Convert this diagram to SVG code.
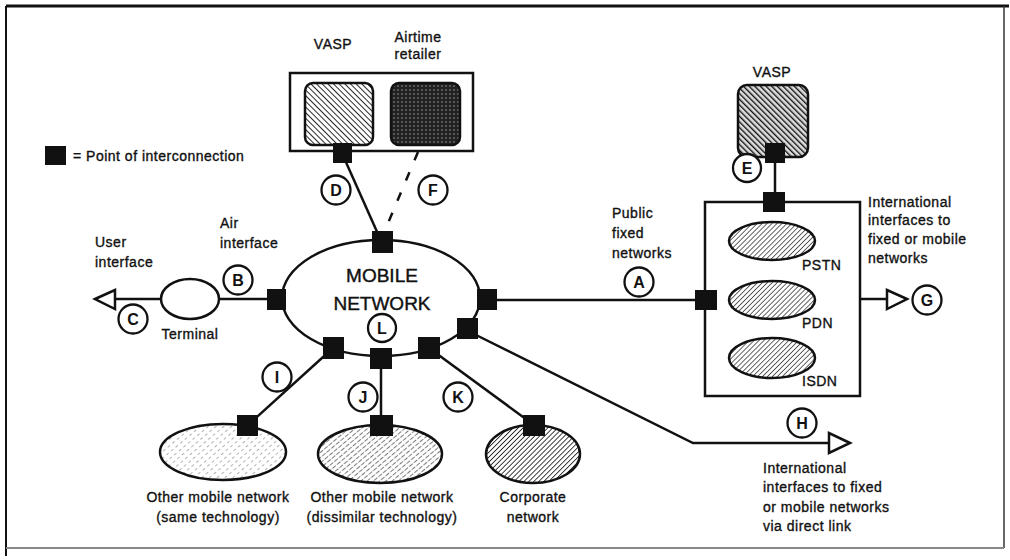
<svg xmlns="http://www.w3.org/2000/svg" width="1010" height="560" viewBox="0 0 1010 560">
<defs>
<style>
text{font-family:"Liberation Sans",Arial,sans-serif;fill:#111}
.lbl{font-size:14px;letter-spacing:0.5px;stroke:#111;stroke-width:0.35px}
.big{font-size:19px;stroke:#111;stroke-width:0.4px}
.ltr{font-size:16px;text-anchor:middle;font-weight:bold}
.mid{text-anchor:middle}
.c{fill:#fff;stroke:#111;stroke-width:2.3}
.ln{stroke:#111;stroke-width:2.5;fill:none}
.poi{fill:#111}
.arr{fill:#fff;stroke:#111;stroke-width:2.5;stroke-linejoin:miter}
.bx{fill:#fff;stroke:#111;stroke-width:2.5}
</style>
<pattern id="hBack" width="4" height="4" patternUnits="userSpaceOnUse" patternTransform="rotate(-45)">
<rect width="4" height="4" fill="#fff"/><line x1="0" y1="0" x2="0" y2="4" stroke="#111" stroke-width="1.8"/>
</pattern>
<pattern id="hBackDark" width="4" height="4" patternUnits="userSpaceOnUse" patternTransform="rotate(-45)">
<rect width="4" height="4" fill="#ddd"/><line x1="0" y1="0" x2="0" y2="4" stroke="#111" stroke-width="2.7"/>
</pattern>
<pattern id="dots" width="4" height="4" patternUnits="userSpaceOnUse">
<rect width="4" height="4" fill="#222"/><circle cx="2" cy="2" r="0.8" fill="#999"/>
</pattern>
<pattern id="hFwd" width="3.5" height="3.5" patternUnits="userSpaceOnUse" patternTransform="rotate(45)">
<rect width="3.5" height="3.5" fill="#fff"/><line x1="0" y1="0" x2="0" y2="3.5" stroke="#222" stroke-width="1.4"/>
</pattern>
<pattern id="hLight" width="5" height="6" patternUnits="userSpaceOnUse" patternTransform="rotate(50)">
<rect width="5" height="6" fill="#fff"/><line x1="0" y1="0" x2="0" y2="3" stroke="#666" stroke-width="1"/>
</pattern>
<pattern id="hMed" width="4" height="6" patternUnits="userSpaceOnUse" patternTransform="rotate(50)">
<rect width="4" height="6" fill="#fff"/><line x1="0" y1="0" x2="0" y2="4.5" stroke="#333" stroke-width="1.3"/>
</pattern>
<pattern id="hDense" width="3.5" height="3.5" patternUnits="userSpaceOnUse" patternTransform="rotate(45)">
<rect width="3.5" height="3.5" fill="#fff"/><line x1="0" y1="0" x2="0" y2="3.5" stroke="#111" stroke-width="1.6"/>
</pattern>
</defs>

<g id="frame" fill="none">
<line x1="6" y1="6" x2="1009" y2="6" stroke="#111" stroke-width="3"/>
<line x1="6" y1="6" x2="6" y2="556" stroke="#111" stroke-width="2"/>
<line x1="1004" y1="6" x2="1004" y2="548" stroke="#333" stroke-width="1.5"/>
<line x1="6" y1="548" x2="1004" y2="548" stroke="#888" stroke-width="2"/>
</g>

<g id="connectors">
<line class="ln" x1="345" y1="160" x2="378" y2="234"/>
<line class="ln" x1="418" y1="152" x2="386" y2="228" stroke-dasharray="9 13"/>
<line class="ln" x1="115" y1="299" x2="161" y2="299"/>
<line class="ln" x1="219" y1="299" x2="268" y2="299"/>
<line class="ln" x1="497" y1="300" x2="705" y2="300"/>
<line class="ln" x1="775" y1="160" x2="775" y2="195"/>
<line class="ln" x1="860" y1="299" x2="888" y2="299"/>
<polyline class="ln" points="470,332 693,443 829,443"/>
<line class="ln" x1="333" y1="348" x2="248" y2="425"/>
<line class="ln" x1="381" y1="358" x2="381" y2="418"/>
<line class="ln" x1="429" y1="348" x2="534" y2="425"/>
<polygon class="arr" points="95,299 115,290 115,309"/>
<polygon class="arr" points="907,299 887,290 887,309"/>
<polygon class="arr" points="850,443 829,433 829,453"/>
</g>

<g id="legend">
<rect class="poi" x="45" y="146" width="21" height="19"/>
<text class="lbl" x="73" y="161">= Point of interconnection</text>
</g>

<g id="vasp-airtime">
<rect class="bx" x="290" y="73" width="183" height="78"/>
<rect x="305" y="83" width="68" height="62" rx="8" fill="url(#hBack)" stroke="#111" stroke-width="2.5"/>
<rect x="391" y="83" width="69" height="62" rx="8" fill="url(#dots)" stroke="#111" stroke-width="2.5"/>
<rect class="poi" x="333" y="143" width="19" height="20"/>
<text class="lbl mid" x="333" y="49">VASP</text>
<text class="lbl mid" x="418" y="42">Airtime</text>
<text class="lbl mid" x="418" y="59">retailer</text>
<circle class="c" cx="336" cy="190" r="14.5"/><text class="ltr" x="336" y="196">D</text>
<circle class="c" cx="433" cy="190" r="14.5"/><text class="ltr" x="433" y="196">F</text>
</g>

<g id="mobile-network">
<ellipse cx="381" cy="298" rx="99" ry="58" fill="#fff" stroke="#111" stroke-width="2.5"/>
<text class="big mid" x="382" y="282">MOBILE</text>
<text class="big mid" x="382" y="310">NETWORK</text>
<circle class="c" cx="382" cy="328" r="14"/><text class="ltr" x="382" y="334">L</text>
<rect class="poi" x="372" y="231" width="21" height="22"/>
<rect class="poi" x="267" y="289" width="19" height="21"/>
<rect class="poi" x="477" y="289" width="20" height="21"/>
<rect class="poi" x="457" y="318" width="21" height="21"/>
<rect class="poi" x="323" y="337" width="21" height="22"/>
<rect class="poi" x="370" y="348" width="22" height="21"/>
<rect class="poi" x="418" y="337" width="22" height="22"/>
</g>

<g id="terminal">
<ellipse cx="190" cy="299" rx="29" ry="20" fill="#fff" stroke="#111" stroke-width="2.5"/>
<text class="lbl mid" x="190" y="339">Terminal</text>
<text class="lbl" x="95" y="247">User</text>
<text class="lbl" x="95" y="267">interface</text>
<text class="lbl" x="220" y="228">Air</text>
<text class="lbl" x="220" y="248">interface</text>
<circle class="c" cx="133" cy="319" r="14.5"/><text class="ltr" x="133" y="325">C</text>
<circle class="c" cx="238" cy="280" r="14.5"/><text class="ltr" x="238" y="286">B</text>
</g>

<g id="public-fixed">
<text class="lbl" x="612" y="218">Public</text>
<text class="lbl" x="612" y="238">fixed</text>
<text class="lbl" x="612" y="258">networks</text>
<circle class="c" cx="639" cy="282" r="14.5"/><text class="ltr" x="639" y="288">A</text>
</g>

<g id="vasp-right">
<text class="lbl mid" x="772" y="77">VASP</text>
<rect x="738" y="85" width="70" height="72" rx="9" fill="url(#hBackDark)" stroke="#111" stroke-width="2.5"/>
<rect class="poi" x="765" y="143" width="20" height="20"/>
<circle class="c" cx="747" cy="168" r="14"/><text class="ltr" x="747" y="174">E</text>
</g>

<g id="fixed-networks">
<rect x="705" y="202" width="155" height="194" fill="none" stroke="#111" stroke-width="2.5"/>
<rect class="poi" x="763" y="192" width="22" height="20"/>
<rect class="poi" x="695" y="290" width="22" height="20"/>
<ellipse cx="772" cy="241" rx="43" ry="19" fill="url(#hFwd)" stroke="#111" stroke-width="2.5"/>
<ellipse cx="772" cy="300" rx="43" ry="19" fill="url(#hFwd)" stroke="#111" stroke-width="2.5"/>
<ellipse cx="772" cy="358" rx="43" ry="20" fill="url(#hFwd)" stroke="#111" stroke-width="2.5"/>
<text class="lbl" x="802" y="270">PSTN</text>
<text class="lbl" x="802" y="328">PDN</text>
<text class="lbl" x="802" y="386">ISDN</text>
<text class="lbl" x="868" y="207">International</text>
<text class="lbl" x="868" y="225">interfaces to</text>
<text class="lbl" x="868" y="244">fixed or mobile</text>
<text class="lbl" x="868" y="263">networks</text>
<circle class="c" cx="927" cy="300" r="14.5"/><text class="ltr" x="927" y="306">G</text>
</g>

<g id="direct-link">
<circle class="c" cx="802" cy="423" r="14.5"/><text class="ltr" x="802" y="429">H</text>
<text class="lbl" x="763" y="473">International</text>
<text class="lbl" x="763" y="492">interfaces to fixed</text>
<text class="lbl" x="763" y="512">or mobile networks</text>
<text class="lbl" x="763" y="531">via direct link</text>
</g>

<g id="other-same">
<ellipse cx="223" cy="452" rx="63" ry="28" fill="url(#hLight)" stroke="#111" stroke-width="2.5"/>
<rect class="poi" x="237" y="415" width="21" height="21"/>
<circle class="c" cx="277" cy="377" r="14.5"/><text class="ltr" x="277" y="383">I</text>
<text class="lbl mid" x="218" y="502">Other mobile network</text>
<text class="lbl mid" x="218" y="522">(same technology)</text>
</g>

<g id="other-dissimilar">
<ellipse cx="380" cy="454" rx="62" ry="29" fill="url(#hMed)" stroke="#111" stroke-width="2.5"/>
<rect class="poi" x="370" y="415" width="23" height="21"/>
<circle class="c" cx="363" cy="397" r="14.5"/><text class="ltr" x="363" y="403">J</text>
<text class="lbl mid" x="382" y="502">Other mobile network</text>
<text class="lbl mid" x="382" y="522">(dissimilar technology)</text>
</g>

<g id="corporate">
<ellipse cx="533" cy="454" rx="47" ry="29" fill="url(#hDense)" stroke="#111" stroke-width="2.5"/>
<rect class="poi" x="523" y="415" width="22" height="21"/>
<circle class="c" cx="458" cy="397" r="14.5"/><text class="ltr" x="458" y="403">K</text>
<text class="lbl mid" x="533" y="502">Corporate</text>
<text class="lbl mid" x="533" y="522">network</text>
</g>
</svg>
